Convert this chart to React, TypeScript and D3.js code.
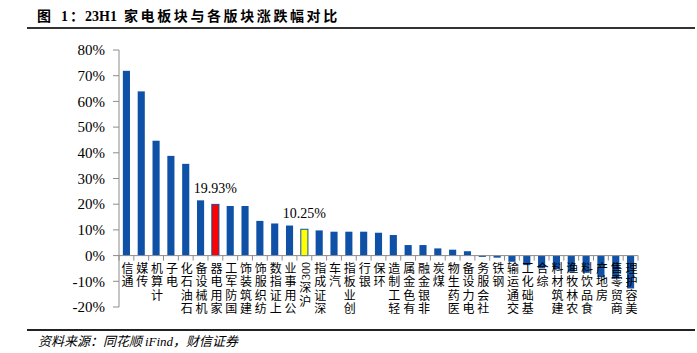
import * as d3 from "d3";

// 23H1 sector returns (%)
const categories = [
  "通信", "传媒", "计算机", "电子", "石油石化", "机械设备", "家用电器", "国防军工",
  "建筑装饰", "纺织服饰", "上证指数", "公用事业", "沪深300", "深证成指", "汽车", "创业板指",
  "银行", "环保", "轻工制造", "有色金属", "非银金融", "煤炭", "医药生物", "电力设备",
  "社会服务", "钢铁", "交通运输", "基础化工", "综合", "建筑材料", "农林牧渔", "食品饮料",
  "房地产", "商贸零售", "美容护理",
];
const values = [
  71.9, 63.9, 44.7, 38.8, 35.7, 21.5, 19.93, 19.3,
  19.3, 13.5, 12.5, 11.7, 10.25, 9.8, 9.3, 9.3,
  9.3, 8.9, 8.0, 4.1, 4.1, 2.8, 2.3, 1.7,
  -0.5, -0.8, -2.4, -3.7, -5.0, -5.3, -6.3, -6.7,
  -8.4, -8.9, -12.8,
];
const yTicks = [80, 70, 60, 50, 40, 30, 20, 10, 0, -10, -20];
const highlights: Record<string, string> = { 家用电器: "#ff0000", 沪深300: "#ffff00" };
const annotated = ["家用电器", "沪深300"];

const W = 697;
const H = 353;
const BLUE = "#0e51a7";
const AXIS = "#8c8c8c";
const SERIF = "'Liberation Serif', 'Times New Roman', serif";
const CJK = "'Noto Sans CJK SC', sans-serif";

export default function App() {
  const x = d3.scaleBand().domain(categories).range([119, 638]).paddingInner(0.52).paddingOuter(0.26);
  const y = d3.scaleLinear().domain([-20, 80]).range([307, 50]);
  const step = x.step();
  const y0 = y(0);
  const left = x.range()[0];

  return (
    <svg width={W} height={H} style={{ position: "absolute", left: 0, top: 0, background: "#fff" }}>
      {/* title */}
      <text y={21} fontWeight="bold" fontSize={14} fill="#000">
        <tspan x={37} fontFamily={CJK}>图</tspan>
        <tspan x={61} fontFamily={SERIF}>1</tspan>
        <tspan x={70} fontFamily={CJK}>：</tspan>
        <tspan x={85} fontFamily={SERIF}>23H1</tspan>
        <tspan x={124} fontFamily={CJK} letterSpacing={2.6}>家电板块与各版块涨跌幅对比</tspan>
      </text>
      <line x1={27} x2={695} y1={28} y2={28} stroke="#333" strokeWidth={2} />

      {/* y axis */}
      <line x1={left} x2={left} y1={y(80)} y2={y(-20)} stroke={AXIS} />
      {yTicks.map((t) => (
        <g key={t}>
          <line x1={left - 6} x2={left} y1={y(t)} y2={y(t)} stroke={AXIS} />
          <text x={105} y={y(t)} dy="0.35em" textAnchor="end" fontFamily={SERIF} fontSize={15} fill="#000">
            {t}%
          </text>
        </g>
      ))}

      {/* bars */}
      {categories.map((c, i) => {
        const v = values[i];
        const hl = highlights[c];
        return (
          <rect
            key={c}
            x={x(c)!}
            width={x.bandwidth()}
            y={Math.min(y(v), y0)}
            height={Math.abs(y(v) - y0)}
            fill={hl ?? BLUE}
            stroke={hl ? BLUE : "none"}
            strokeWidth={1}
          />
        );
      })}

      {/* x axis */}
      <line x1={left} x2={x.range()[1]} y1={y0} y2={y0} stroke={AXIS} />
      {d3.range(categories.length + 1).map((i) => (
        <line key={i} x1={left + i * step} x2={left + i * step} y1={y0} y2={y0 + 5} stroke={AXIS} />
      ))}

      {/* value annotations */}
      {annotated.map((c) => {
        const v = values[categories.indexOf(c)];
        return (
          <text key={c} x={x(c)! + x.bandwidth() / 2} y={y(v) - 11} textAnchor="middle"
            fontFamily={SERIF} fontSize={14} fill="#000">
            {v.toFixed(2)}%
          </text>
        );
      })}

      {/* category labels: upright CJK stacked, read bottom to top */}
      {categories.map((c) => {
        const cx = x(c)! + x.bandwidth() / 2 + 1;
        const m = c.match(/^(.*?)([\x00-\x7f]+)$/);
        const cjkPart = m ? m[1] : c;
        const asciiPart = m ? m[2] : "";
        const asciiLen = asciiPart.length * 6;
        const top = 262 + (asciiPart ? asciiLen + 1.5 : 0);
        return (
          <g key={c} fill="#000">
            {asciiPart && (
              <text transform={`translate(${cx},${262 + asciiLen / 2}) rotate(-90)`}
                textAnchor="middle" dy="0.35em" fontFamily={SERIF} fontSize={12}>
                {asciiPart}
              </text>
            )}
            <text x={cx} y={top} fontFamily={CJK} fontSize={12} letterSpacing={1.5}
              style={{ writingMode: "vertical-rl", textOrientation: "upright" } as any}>
              {Array.from(cjkPart).reverse().join("")}
            </text>
          </g>
        );
      })}

      {/* footer */}
      <line x1={27} x2={695} y1={330} y2={330} stroke="#222" strokeWidth={2} />
      <text x={38} y={346} fontSize={13} fontStyle="italic" fill="#000" fontFamily={CJK}>
        资料来源：同花顺 <tspan fontFamily={SERIF}>iFind</tspan>，财信证券
      </text>
    </svg>
  );
}
